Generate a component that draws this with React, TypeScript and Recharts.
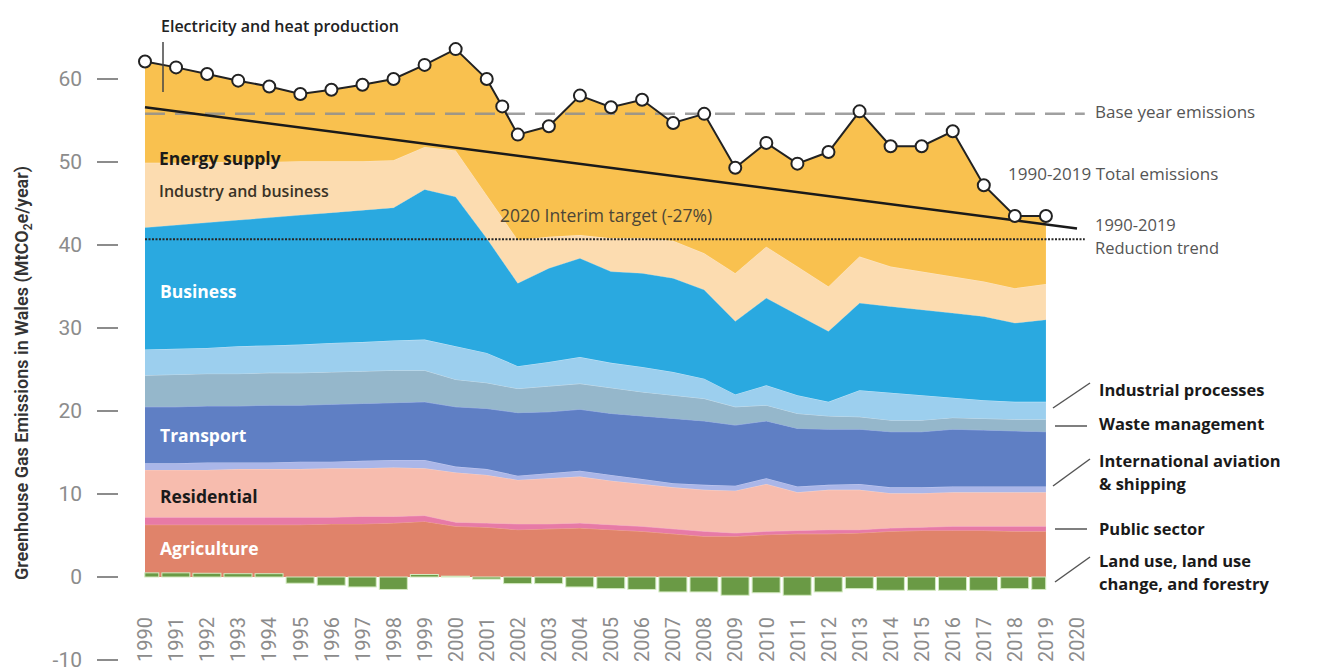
import React from "react";
import { Area, Bar, ComposedChart, Line, ReferenceLine, XAxis, YAxis } from "recharts";

const FONT = "Roboto, 'Open Sans', sans-serif";
const LABEL_FONT = "'Open Sans', Roboto, sans-serif";
const TICK_GREY = "#8c8c8c";
const NOTE_GREY = "#555";
const BAR_WIDTH = 28;

// emissions by sector, MtCO2e/year, 1990-2019
const years = [
  1990, 1991, 1992, 1993, 1994, 1995, 1996, 1997, 1998, 1999, 2000, 2001, 2002, 2003, 2004,
  2005, 2006, 2007, 2008, 2009, 2010, 2011, 2012, 2013, 2014, 2015, 2016, 2017, 2018, 2019,
];
const agriculture = [6.3, 6.3, 6.3, 6.3, 6.3, 6.3, 6.4, 6.4, 6.5, 6.7, 6.1, 6.0, 5.7, 5.8, 5.9, 5.7, 5.5, 5.2, 4.9, 4.9, 5.1, 5.2, 5.2, 5.3, 5.5, 5.6, 5.6, 5.6, 5.5, 5.5];
const publicSector = [0.9, 0.9, 0.9, 0.9, 0.9, 0.9, 0.8, 0.9, 0.8, 0.7, 0.5, 0.5, 0.7, 0.6, 0.6, 0.6, 0.6, 0.6, 0.6, 0.4, 0.4, 0.4, 0.5, 0.4, 0.4, 0.4, 0.5, 0.5, 0.6, 0.6];
const residential = [5.7, 5.7, 5.7, 5.8, 5.8, 5.8, 5.9, 5.8, 5.9, 5.7, 6.0, 5.8, 5.3, 5.5, 5.6, 5.3, 5.1, 5.0, 5.0, 5.1, 5.7, 4.6, 4.8, 4.8, 4.2, 4.1, 4.1, 4.1, 4.1, 4.1];
const aviation = [0.8, 0.8, 0.9, 0.8, 0.8, 0.9, 0.8, 0.9, 0.9, 1.0, 0.7, 0.7, 0.5, 0.6, 0.7, 0.7, 0.6, 0.5, 0.6, 0.6, 0.7, 0.7, 0.6, 0.7, 0.7, 0.7, 0.7, 0.7, 0.7, 0.7];
const transport = [6.8, 6.8, 6.8, 6.8, 6.9, 6.8, 6.9, 6.9, 6.9, 7.0, 7.2, 7.3, 7.6, 7.4, 7.4, 7.4, 7.6, 7.8, 7.7, 7.3, 6.9, 7.0, 6.7, 6.6, 6.7, 6.7, 6.9, 6.8, 6.7, 6.6];
const waste = [3.8, 3.9, 3.9, 3.9, 3.9, 3.9, 3.9, 3.9, 3.9, 3.8, 3.3, 3.1, 2.9, 3.1, 3.1, 3.1, 2.9, 2.8, 2.7, 2.2, 1.9, 1.8, 1.6, 1.5, 1.4, 1.4, 1.4, 1.4, 1.4, 1.5];
const industrialProcesses = [3.1, 3.1, 3.1, 3.3, 3.3, 3.4, 3.5, 3.5, 3.6, 3.7, 4.0, 3.6, 2.7, 2.9, 3.2, 3.0, 3.0, 2.8, 2.4, 1.5, 2.4, 2.2, 1.7, 3.2, 3.3, 3.0, 2.4, 2.2, 2.1, 2.1];
const business = [14.7, 14.9, 15.1, 15.2, 15.4, 15.6, 15.7, 15.9, 16.0, 18.1, 18.0, 13.8, 10.0, 11.3, 11.9, 11.0, 11.3, 11.3, 10.7, 8.8, 10.5, 9.7, 8.5, 10.5, 10.4, 10.3, 10.2, 10.1, 9.5, 9.9];
const industryAndBusiness = [7.8, 7.5, 7.3, 7.0, 6.7, 6.5, 6.2, 5.9, 5.7, 5.1, 5.6, 5.2, 5.2, 3.8, 2.8, 4.0, 4.2, 4.5, 4.4, 5.8, 6.2, 5.8, 5.4, 5.6, 4.8, 4.6, 4.4, 4.2, 4.2, 4.3];
const energySupply = [12.2, 11.5, 10.6, 9.8, 9.1, 8.1, 8.6, 9.2, 9.8, 9.9, 12.2, 14.0, 12.7, 13.3, 16.8, 15.8, 16.7, 14.2, 16.8, 12.7, 12.5, 12.4, 16.2, 17.5, 14.5, 15.1, 17.5, 11.6, 8.7, 8.2];
const landUse = [0.5, 0.5, 0.45, 0.4, 0.4, -0.75, -1.0, -1.2, -1.5, 0.3, 0.1, -0.25, -0.8, -0.8, -1.2, -1.4, -1.5, -1.8, -1.8, -2.2, -1.9, -2.2, -1.8, -1.4, -1.6, -1.6, -1.6, -1.6, -1.4, -1.5];

// total emissions line (the source has an extra marker between 2001 and 2002)
const totalYears = [
  1990, 1991, 1992, 1993, 1994, 1995, 1996, 1997, 1998, 1999, 2000, 2001, 2001.5, 2002, 2003,
  2004, 2005, 2006, 2007, 2008, 2009, 2010, 2011, 2012, 2013, 2014, 2015, 2016, 2017, 2018, 2019,
];
const totalEmissions = [62.1, 61.4, 60.6, 59.8, 59.1, 58.2, 58.7, 59.3, 60.0, 61.7, 63.6, 60.0, 56.7, 53.3, 54.3, 58.0, 56.6, 57.5, 54.7, 55.8, 49.3, 52.3, 49.8, 51.2, 56.1, 51.9, 51.9, 53.7, 47.2, 43.5, 43.5];

const xTicks = [
  1990, 1991, 1992, 1993, 1994, 1995, 1996, 1997, 1998, 1999, 2000, 2001, 2002, 2003, 2004, 2005,
  2006, 2007, 2008, 2009, 2010, 2011, 2012, 2013, 2014, 2015, 2016, 2017, 2018, 2019, 2020,
];
const yTicks = [-10, 0, 10, 20, 30, 40, 50, 60];

const BASE_YEAR = 55.8;
const INTERIM_TARGET = 40.7;
const TREND_START = 56.6;
const TREND_END = 42.0;
const GUIDE_END = 2020.25; // guide lines run a little past the axis, up to their labels

const layers = [
  { key: "agriculture", values: agriculture, fill: "#e0836a", edge: "#eea48f" },
  { key: "publicSector", values: publicSector, fill: "#e77aa6", edge: "#f2a3c3" },
  { key: "residential", values: residential, fill: "#f7bcae", edge: "#f9d0c6" },
  { key: "aviation", values: aviation, fill: "#aab6e8", edge: "#c4cbf1" },
  { key: "transport", values: transport, fill: "#5f7fc4", edge: "#93a9e2" },
  { key: "waste", values: waste, fill: "#95b7cb", edge: "#c5dcea" },
  { key: "industrialProcesses", values: industrialProcesses, fill: "#9ccfee", edge: "#c6e6f8" },
  { key: "business", values: business, fill: "#2aa9e0", edge: "#5fc0ea" },
  { key: "industryAndBusiness", values: industryAndBusiness, fill: "#fcdcb0", edge: "#fde6c6" },
  { key: "energySupply", values: energySupply, fill: "#f9c14f", edge: "none" },
];

const data = years.map((year, i) => {
  const row: Record<string, number> = { year, landUse: landUse[i] };
  layers.forEach((l) => {
    row[l.key] = l.values[i];
  });
  return row;
});

const totalData = totalYears.map((year, i) => ({ year, total: totalEmissions[i] }));

function YearTick({ x, y, payload }: any) {
  return (
    <text
      transform={`translate(${x},${y + 2}) rotate(-90)`}
      textAnchor="start"
      dy="0.36em"
      fill={TICK_GREY}
      fontSize={20}
      fontFamily={FONT}
    >
      {payload.value}
    </text>
  );
}

function ValueTick({ x, y, payload }: any) {
  return (
    <g>
      <text x={x - 63} y={y} dy="0.34em" textAnchor="end" fill={TICK_GREY} fontSize={21} fontFamily={FONT}>
        {payload.value}
      </text>
      <line x1={x - 48} x2={x - 27} y1={y} y2={y} stroke={TICK_GREY} strokeWidth={2} />
    </g>
  );
}

function LandUseBar(props: any) {
  let { y, height } = props;
  const year = props.payload?.year;
  const center = props.x + props.width / 2;
  let x = center - BAR_WIDTH / 2;
  let width = BAR_WIDTH;
  if (height < 0) {
    y += height;
    height = -height;
  }
  // first and last bars are cut at the edges of the stacked area
  if (year === years[0]) {
    x = center;
    width = BAR_WIDTH / 2;
  }
  if (year === years[years.length - 1]) width = BAR_WIDTH / 2;
  return <rect x={x} y={y} width={width} height={height} fill="#6a9a45" stroke="#d3eac0" strokeWidth={1} />;
}

function Annotations() {
  const bold = { fontFamily: LABEL_FONT, fontWeight: 700 } as const;
  const semi = { fontFamily: LABEL_FONT, fontWeight: 600 } as const;
  const plain = { fontFamily: LABEL_FONT, fontWeight: 400 } as const;
  return (
    <svg
      width={1317}
      height={671}
      style={{ position: "absolute", left: 0, top: 0, pointerEvents: "none" }}
    >
      <text
        transform="translate(22,373) rotate(-90)"
        textAnchor="middle"
        dy="0.35em"
        fontSize={18}
        fill="#333"
        style={{ fontFamily: FONT, fontWeight: 600 }}
      >
        Greenhouse Gas Emissions in Wales (MtCO
        <tspan fontSize={12} dy={4}>2</tspan>
        <tspan dy={-4}>e/year)</tspan>
      </text>

      <text x={161} y={32} fontSize={16} fill="#222" style={semi}>
        Electricity and heat production
      </text>
      <line x1={163} x2={163} y1={42} y2={92} stroke="#444" strokeWidth={1.5} />

      <text x={159} y={165} fontSize={17.5} fill="#1a1a1a" style={bold}>Energy supply</text>
      <text x={159} y={197} fontSize={16} fill="#3a3326" style={semi}>
        Industry and business
      </text>
      <text x={160} y={298} fontSize={17.5} fill="#fff" style={bold}>Business</text>
      <text x={160} y={442} fontSize={17.5} fill="#fff" style={bold}>Transport</text>
      <text x={160} y={503} fontSize={17.5} fill="#1a1a1a" style={bold}>Residential</text>
      <text x={160} y={555} fontSize={17.5} fill="#fff" style={bold}>Agriculture</text>

      <text x={500} y={222} fontSize={17.5} fill="#4d4636" style={plain}>2020 Interim target (-27%)</text>
      <text x={1095} y={118} fontSize={17} fill={NOTE_GREY} style={plain}>Base year emissions</text>
      <text x={1008} y={180} fontSize={17} fill={NOTE_GREY} style={plain}>1990-2019 Total emissions</text>
      <text x={1095} y={231} fontSize={16.5} fill={NOTE_GREY} style={plain}>1990-2019</text>
      <text x={1095} y={254} fontSize={16.5} fill={NOTE_GREY} style={plain}>Reduction trend</text>

      <g fontSize={16.5} fill="#1a1a1a" style={bold}>
        <text x={1099} y={396}>Industrial processes</text>
        <text x={1099} y={430}>Waste management</text>
        <text x={1099} y={467}>International aviation</text>
        <text x={1099} y={490}>&amp; shipping</text>
        <text x={1099} y={535}>Public sector</text>
        <text x={1099} y={567}>Land use, land use</text>
        <text x={1099} y={590}>change, and forestry</text>
      </g>
      <g stroke={NOTE_GREY} strokeWidth={1.5}>
        <line x1={1053} y1={408} x2={1090} y2={383} />
        <line x1={1055} y1={426} x2={1087} y2={426} />
        <line x1={1053} y1={486} x2={1090} y2={459} />
        <line x1={1055} y1={529} x2={1087} y2={529} />
        <line x1={1055} y1={582} x2={1090} y2={557} />
      </g>
    </svg>
  );
}

export default function App() {
  return (
    <div style={{ position: "absolute", left: 0, top: 0, width: 1317, height: 671, background: "#fff" }}>
      <ComposedChart
        width={1317}
        height={671}
        data={data}
        margin={{ top: 37.5, right: 240, bottom: 1, left: 0 }}
      >
        <XAxis
          dataKey="year"
          type="number"
          domain={[1990, 2020]}
          ticks={xTicks}
          interval={0}
          height={10}
          axisLine={false}
          tickLine={false}
          tickSize={0}
          tickMargin={0}
          tick={<YearTick />}
        />
        <YAxis
          type="number"
          domain={[-10, 65]}
          ticks={yTicks}
          interval={0}
          width={145}
          axisLine={false}
          tickLine={false}
          tickSize={0}
          tickMargin={0}
          tick={<ValueTick />}
        />
        {layers.map((l) => (
          <Area
            key={l.key}
            dataKey={l.key}
            stackId="sectors"
            type="linear"
            fill={l.fill}
            fillOpacity={1}
            stroke={l.edge}
            strokeWidth={1}
            dot={false}
            activeDot={false}
            isAnimationActive={false}
          />
        ))}
        <Bar dataKey="landUse" shape={<LandUseBar />} isAnimationActive={false} />
        <ReferenceLine
          segment={[
            { x: 1990, y: BASE_YEAR },
            { x: GUIDE_END, y: BASE_YEAR },
          ]}
          ifOverflow="visible"
          stroke="#8f8f8f"
          strokeOpacity={0.85}
          strokeWidth={2.5}
          strokeDasharray="20 10"
        />
        <ReferenceLine
          segment={[
            { x: 1990, y: INTERIM_TARGET },
            { x: GUIDE_END, y: INTERIM_TARGET },
          ]}
          ifOverflow="visible"
          stroke="#262626"
          strokeWidth={2}
          strokeDasharray="2 1.5"
        />
        <ReferenceLine
          segment={[
            { x: 1990, y: TREND_START },
            { x: 2020, y: TREND_END },
          ]}
          stroke="#1a1a1a"
          strokeWidth={2.5}
        />
        <Line
          data={totalData}
          dataKey="total"
          type="linear"
          stroke="#222"
          strokeWidth={2}
          dot={{ r: 6, fill: "#fff", stroke: "#222", strokeWidth: 2 }}
          activeDot={false}
          isAnimationActive={false}
        />
      </ComposedChart>
      <Annotations />
    </div>
  );
}
